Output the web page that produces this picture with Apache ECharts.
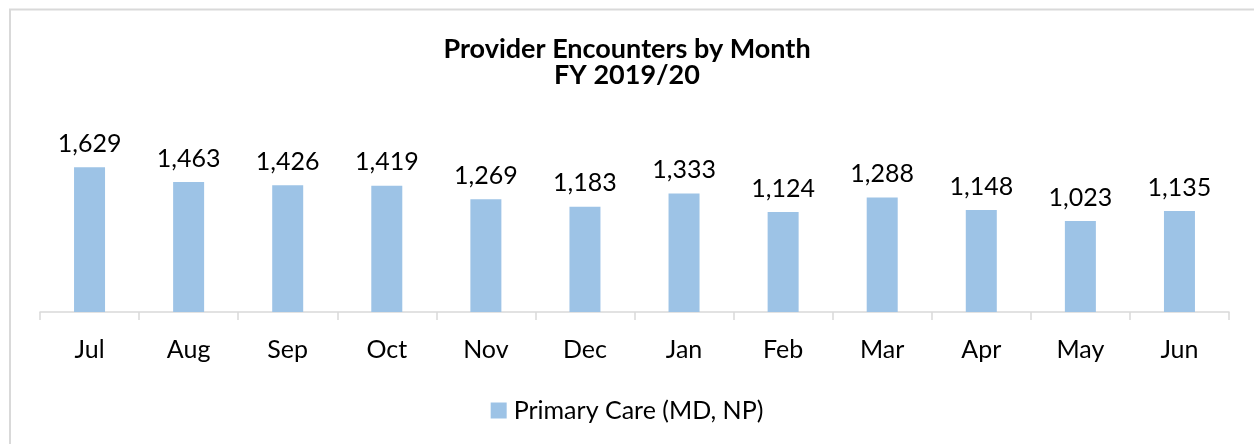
<!DOCTYPE html>
<html><head><meta charset="utf-8">
<script src="https://cdn.jsdelivr.net/npm/echarts@6/dist/echarts.min.js"></script>
<style>html,body{margin:0;padding:0;background:#fff;}#c{width:1254px;height:444px;}</style>
</head><body><div id="c"></div>
<script>
const categories = ['Jul','Aug','Sep','Oct','Nov','Dec','Jan','Feb','Mar','Apr','May','Jun'];
const seriesName = 'Primary Care (MD, NP)';
const values = [1629,1463,1426,1419,1269,1183,1333,1124,1288,1148,1023,1135];
const titleLines = ['Provider Encounters by Month','FY 2019/20'];

const chart = echarts.init(document.getElementById('c'));
chart.setOption({
  animation: false,
  backgroundColor: '#fff',
  graphic: [{type:'rect', shape:{x:10,y:9.5,width:1300,height:500}, style:{fill:'none', stroke:'#D9D9D9', lineWidth:2}, silent:true}],
  title: {
    text: titleLines.join('\n'),
    left: 'center', top: 31,
    padding: [5,5,5,19],
    textStyle: {fontFamily:'Lato', fontWeight:'bold', fontSize:27, lineHeight:26, color:'#000'}
  },
  legend: {
    data: [seriesName], left: 'center', top: 393,
    itemWidth: 16, itemHeight: 16, itemGap: 10,
    icon: 'rect',
    textStyle: {fontFamily:'Lato', fontSize:25, color:'#000', padding:[0,0,0,2]}
  },
  grid: {left: 40, right: 25, top: 152, bottom: 132, containLabel: false},
  xAxis: {
    type: 'category', data: categories,
    axisLine: {lineStyle:{color:'#D9D9D9', width:1.5}},
    axisTick: {show:true, length:8, lineStyle:{color:'#D9D9D9', width:1.5}},
    axisLabel: {fontFamily:'Lato', fontSize:25, color:'#000', margin:25}
  },
  yAxis: {type:'value', min:0, max:1800, show:false, splitLine:{show:false}},
  series: [{
    name: seriesName, type: 'bar', data: values, barWidth: 31,
    itemStyle: {color:'#9DC3E6'},
    label: {show:true, position:'top', distance:11, fontFamily:'Lato', fontSize:25, color:'#000',
      formatter: p => p.value.toLocaleString('en-US')}
  }]
});
</script></body></html>
